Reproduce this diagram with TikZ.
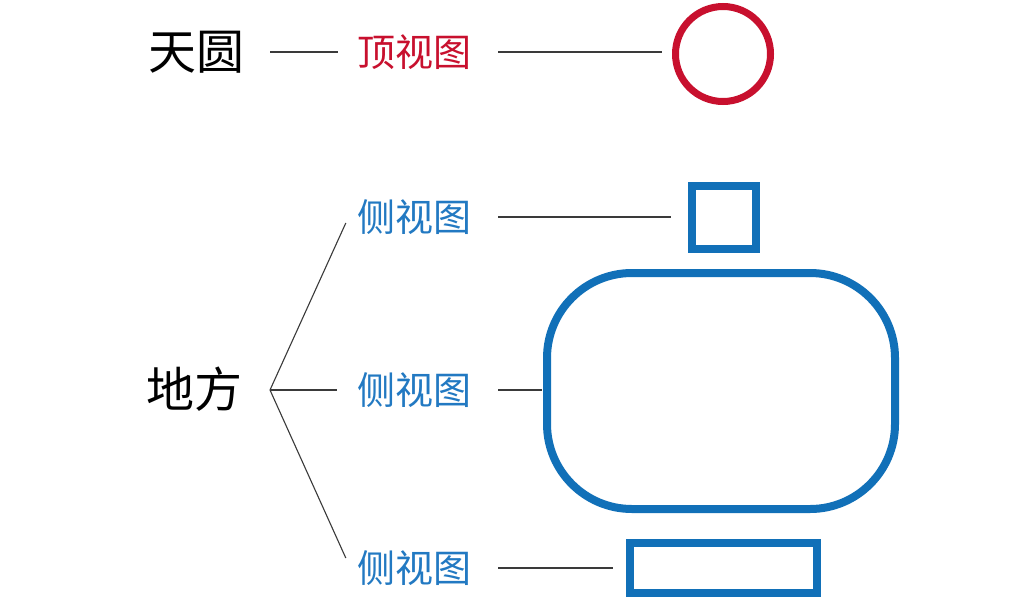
\documentclass[tikz,border=0pt]{standalone}
\usepackage{fontspec}
\newfontfamily\cjk{Noto Sans CJK SC}
\definecolor{tred}{HTML}{C8102E}
\definecolor{tblue}{HTML}{1170B8}
\definecolor{tblueText}{HTML}{2279C2}
\definecolor{lineGray}{HTML}{3A3A3A}
\begin{document}
\begin{tikzpicture}[x=1pt,y=-1pt,
  bigtext/.style={inner sep=0pt,font=\cjk\fontsize{48}{48}\selectfont,text=black},
  smalltext/.style={inner sep=0pt,font=\cjk\fontsize{38}{38}\selectfont},
  conn/.style={draw=lineGray,line width=1.1pt},
  viewshape/.style={draw=tblue,line width=8pt,inner sep=0pt}]
\useasboundingbox[fill=white] (0,0) rectangle (1024,600);
% left labels
\node[bigtext] (tian) at (196,52) {天圆};
\node[bigtext] (difang) at (194,389) {地方};
% view labels
\node[smalltext,text=tred] (top) at (414,52) {顶视图};
\node[smalltext,text=tblueText] (s1) at (414,217) {侧视图};
\node[smalltext,text=tblueText] (s2) at (414,390) {侧视图};
\node[smalltext,text=tblueText] (s3) at (414,568) {侧视图};
% shapes
\node[circle,draw=tred,line width=7pt,minimum size=95pt,inner sep=0pt] (circ) at (723,54) {};
\node[viewshape,rectangle,minimum width=64pt,minimum height=63pt] (sq) at (724,217.5) {};
\node[viewshape,rectangle,rounded corners=85pt,minimum width=348pt,minimum height=236pt] (rr) at (721,391) {};
\node[viewshape,rectangle,minimum width=187pt,minimum height=50pt] (br) at (723.5,568) {};
% fork
\coordinate (fork) at (270,390);
% connectors
\draw[conn,shorten <=26pt,shorten >=19pt] (tian.east) -- (tian.east -| top.west);
\draw[conn,shorten <=27pt,shorten >=10pt] (top.east) -- (top.east -| circ.west);
\draw[conn,shorten <=27pt,shorten >=17pt] (s1.east) -- (s1.east -| sq.west);
\draw[conn,shorten <=27pt,shorten >=1pt] (s2.east) -- (s2.east -| rr.west);
\draw[conn,shorten <=27pt,shorten >=13pt] (s3.east) -- (s3.east -| br.west);
\draw[conn] (fork) -- ([xshift=-11pt,yshift=-6pt]s1.west);
\draw[conn] (fork) -- ([xshift=-20pt]s2.west);
\draw[conn] (fork) -- ([xshift=-11pt,yshift=10pt]s3.west);
\end{tikzpicture}
\end{document}
